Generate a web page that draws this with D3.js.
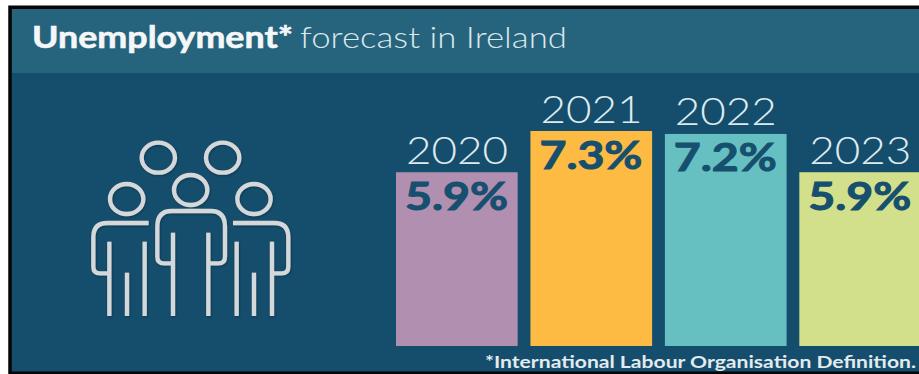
<!DOCTYPE html>
<html>
<head>
<meta charset="utf-8">
<script src="https://cdn.jsdelivr.net/npm/d3@7"></script>
<style>
html,body{margin:0;padding:0;background:#fff;overflow:hidden}
svg{display:block}
text{font-family:Lato,"Open Sans",sans-serif;font-style:normal}
</style>
</head>
<body>
<svg id="chart" width="919" height="374"></svg>
<script>
// Forecast figures
const years = ["2020", "2021", "2022", "2023"];
const rates = [5.9, 7.3, 7.2, 5.9];
const barColors = ["#b08fb1", "#fdbb43", "#66c0c2", "#d2e08c"];
const titleBold = "Unemployment*";
const titleLight = "forecast in Ireland";
const footnote = "*International Labour Organisation Definition.";

const svg = d3.select("#chart");
const panelBg = "#154e6c", headerBg = "#26637d", ink = "#174f6e";

// Panel and header band
svg.append("rect").attr("x", 9).attr("y", 6).attr("width", 910).attr("height", 368).attr("fill", panelBg);
svg.append("rect").attr("x", 12).attr("y", 9).attr("width", 907).attr("height", 64).attr("fill", headerBg);

svg.append("text").text(titleBold)
  .attr("x", 32).attr("y", 48).attr("fill", "#f4f6f7")
  .attr("stroke", "#f4f6f7").attr("stroke-width", 0.6)
  .attr("font-size", 30).attr("font-weight", 700)
  .attr("textLength", 261).attr("lengthAdjust", "spacingAndGlyphs");
svg.append("text").text(titleLight)
  .attr("x", 300).attr("y", 48).attr("fill", "#dce7ec")
  .attr("font-size", 30).attr("font-weight", 300)
  .attr("textLength", 267).attr("lengthAdjust", "spacingAndGlyphs");

// Scales
const x = d3.scaleBand().domain(years).range([396, 921]).paddingInner(0.095);
const y = d3.scaleLinear().domain([0, 7.3]).range([346, 131]);

const rows = years.map((year, i) => ({ year, rate: rates[i], color: barColors[i] }));
const bars = svg.append("g").selectAll("g").data(rows).join("g");

bars.append("rect")
  .attr("x", d => x(d.year)).attr("y", d => y(d.rate))
  .attr("width", x.bandwidth()).attr("height", d => y(0) - y(d.rate))
  .attr("fill", d => d.color);

bars.append("text").text(d => d.year)
  .attr("x", d => x(d.year) + 10).attr("y", d => y(d.rate) - 8.5)
  .attr("fill", "#dfeaef").attr("font-size", 37).attr("font-weight", 300)
  .attr("textLength", 102).attr("lengthAdjust", "spacingAndGlyphs");

bars.append("text").text(d => d.rate.toFixed(1) + "%")
  .attr("x", d => x(d.year) + 9).attr("y", d => y(d.rate) + 37.5)
  .attr("fill", ink).attr("stroke", ink).attr("stroke-width", 1)
  .attr("font-size", 39).attr("font-weight", 700)
  .attr("textLength", 103).attr("lengthAdjust", "spacingAndGlyphs");

svg.append("text").text(footnote)
  .attr("x", 485).attr("y", 368).attr("fill", "#e3ebef")
  .attr("font-size", 17).attr("font-weight", 700)
  .attr("textLength", 431).attr("lengthAdjust", "spacingAndGlyphs");

// People pictogram, drawn in a 3x local grid
const defs = svg.append("defs");
const shadow = defs.append("filter").attr("id", "iconShadow")
  .attr("x", "-10%").attr("y", "-10%").attr("width", "125%").attr("height", "125%");
shadow.append("feDropShadow").attr("dx", 2).attr("dy", 3).attr("stdDeviation", 3)
  .attr("flood-color", "#06283c").attr("flood-opacity", 0.6);

const icon = svg.append("g")
  .attr("transform", "translate(70,130) scale(0.3333)")
  .attr("filter", "url(#iconShadow)")
  .attr("fill", "none").attr("stroke", "#d4d8da").attr("stroke-width", 13);

[[265, 83], [458, 83], [362, 180], [170, 207], [552, 207]].forEach(([cx, cy]) => {
  icon.append("ellipse").attr("cx", cx).attr("cy", cy).attr("rx", 50).attr("ry", 45);
});

[
  "M304,400H282Q262,400 262,380V290Q262,243 305,243H422Q465,243 465,290V380Q465,400 445,400H412",
  "M236,279H112Q70,279 70,322V410Q70,430 90,430H118",
  "M489,279H613Q655,279 655,322V410Q655,430 635,430H606",
  "M309,308V558", "M415,308V558",
  "M118,335V558", "M171,428V558", "M224,335V558",
  "M500,335V558", "M552,428V558", "M606,335V558"
].forEach(d => icon.append("path").attr("d", d));

// Black frame on the top, left and bottom edges
svg.append("path")
  .attr("d", "M919,7.25H10V373.25H919")
  .attr("fill", "none").attr("stroke", "#050505").attr("stroke-width", 3.5);
</script>
</body>
</html>
